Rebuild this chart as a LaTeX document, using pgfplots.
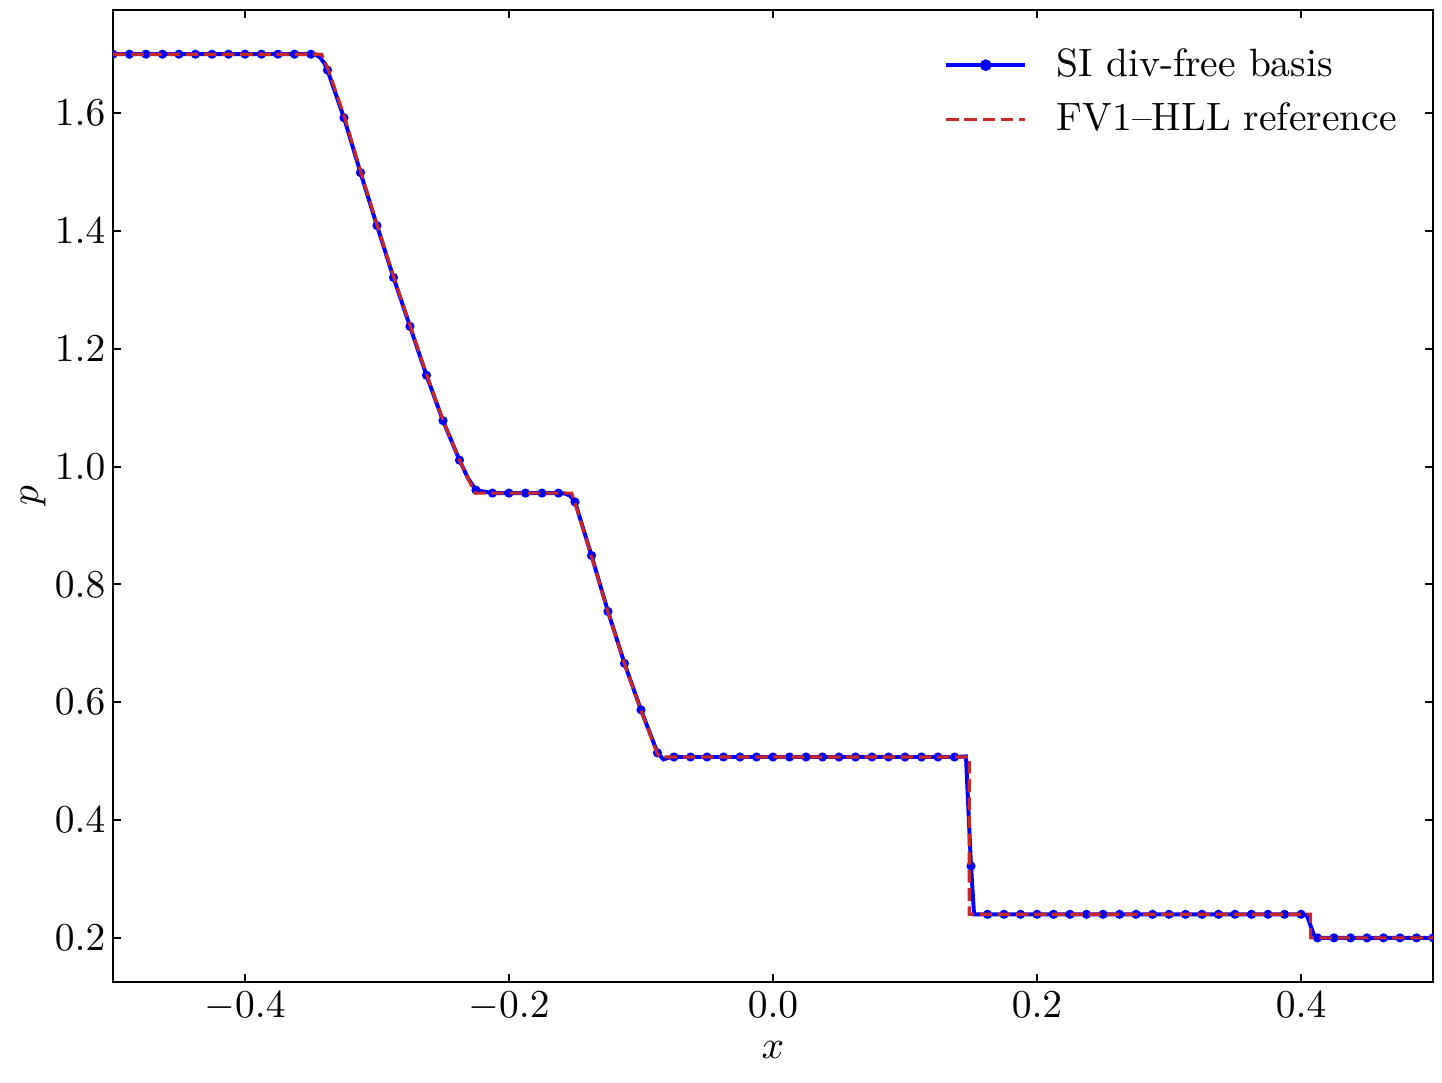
\documentclass[border=0pt]{standalone}
\usepackage{pgfplots}
\pgfplotsset{compat=1.18}
\usepackage{pgfplotstable}

\definecolor{refred}{RGB}{200,40,40}

% blue solution, marker positions (every 10th cell)
\pgfplotstableread{
x p
-0.5 1.700
-0.4875 1.700
-0.475 1.700
-0.4625 1.700
-0.45 1.700
-0.4375 1.700
-0.425 1.700
-0.4125 1.700
-0.4 1.700
-0.3875 1.700
-0.375 1.700
-0.3625 1.700
-0.35 1.700
-0.3375 1.673
-0.325 1.592
-0.3125 1.499
-0.3 1.409
-0.2875 1.321
-0.275 1.238
-0.2625 1.155
-0.25 1.078
-0.2375 1.011
-0.225 0.960
-0.2125 0.955
-0.2 0.955
-0.1875 0.955
-0.175 0.955
-0.1625 0.955
-0.15 0.940
-0.1375 0.849
-0.125 0.754
-0.1125 0.666
-0.1 0.587
-0.0875 0.514
-0.075 0.507
-0.0625 0.507
-0.05 0.507
-0.0375 0.507
-0.025 0.507
-0.0125 0.507
0.0 0.507
0.0125 0.507
0.025 0.507
0.0375 0.507
0.05 0.507
0.0625 0.507
0.075 0.507
0.0875 0.507
0.1 0.507
0.1125 0.507
0.125 0.507
0.1375 0.507
0.15 0.322
0.1625 0.240
0.175 0.240
0.1875 0.240
0.2 0.240
0.2125 0.240
0.225 0.240
0.2375 0.240
0.25 0.240
0.2625 0.240
0.275 0.240
0.2875 0.240
0.3 0.240
0.3125 0.240
0.325 0.240
0.3375 0.240
0.35 0.240
0.3625 0.240
0.375 0.240
0.3875 0.240
0.4 0.240
0.4125 0.200
0.425 0.200
0.4375 0.200
0.45 0.200
0.4625 0.200
0.475 0.200
0.4875 0.200
0.5 0.200
}\markerdata

% blue solution, line (extra points at corners)
\pgfplotstableread{
x p
-0.5 1.700
-0.35 1.700
-0.346 1.699
-0.343 1.694
-0.340 1.685
-0.3375 1.673
-0.325 1.592
-0.3125 1.499
-0.3 1.409
-0.2875 1.321
-0.275 1.238
-0.2625 1.155
-0.25 1.078
-0.2375 1.011
-0.231 0.980
-0.225 0.960
-0.2125 0.955
-0.1625 0.955
-0.157 0.954
-0.1535 0.950
-0.15 0.940
-0.1375 0.849
-0.125 0.754
-0.1125 0.666
-0.1 0.587
-0.0875 0.514
-0.083 0.503
-0.079 0.506
-0.075 0.507
0.1375 0.507
0.1462 0.508
0.15 0.322
0.1523 0.240
0.4 0.240
0.4043 0.239
0.4106 0.200
0.5 0.200
}\bluedata

% FV1-HLL reference
\pgfplotstableread{
x p
-0.5 1.700
-0.342 1.700
-0.3375 1.678
-0.325 1.596
-0.3125 1.502
-0.3 1.411
-0.2875 1.323
-0.275 1.240
-0.2625 1.157
-0.25 1.079
-0.2375 1.011
-0.2258 0.955
-0.1525 0.955
-0.15 0.938
-0.1375 0.848
-0.125 0.753
-0.1125 0.665
-0.1 0.586
-0.0875 0.512
-0.0856 0.507
0.1487 0.507
0.1487 0.240
0.4073 0.240
0.4073 0.200
0.5 0.200
}\refdata

\begin{document}
\begin{tikzpicture}
\begin{axis}[
    scale only axis,
    width=334.2pt, height=246.1pt,
    xmin=-0.5, xmax=0.5,
    ymin=0.125, ymax=1.775,
    xtick={-0.4,-0.2,0,0.2,0.4},
    ytick={0.2,0.4,0.6,0.8,1.0,1.2,1.4,1.6},
    xticklabel style={inner sep=2.3pt, /pgf/number format/.cd, fixed, fixed zerofill, precision=1},
    yticklabel style={inner sep=1.7pt, /pgf/number format/.cd, fixed, fixed zerofill, precision=1},
    tick align=inside,
    major tick length=2pt,
    axis line style={line width=0.7pt},
    every tick/.style={black, line width=0.5pt},
    xlabel={$x$}, ylabel={$p$},
    xlabel style={at={(axis description cs:0.5,-0.0699)}, anchor=center},
    ylabel style={at={(axis description cs:-0.0604,0.5)}, anchor=center},
    clip marker paths=true,
    legend cell align=left,
    legend style={draw=none, fill=none, at={(1,1)}, anchor=north east,
        xshift=-4pt, yshift=-5.5pt, column sep=5.5pt, row sep=1.3pt},
    legend image code/.code={
        \draw[mark repeat=2, mark phase=2, #1]
        plot coordinates {(0pt,0pt) (10pt,0pt) (20pt,0pt)};},
]
\addplot[blue, line width=1pt, no marks, forget plot] table {\bluedata};
\addplot[blue, only marks, mark=*, mark size=0.95pt, forget plot] table {\markerdata};
\addlegendimage{blue, line width=1pt, mark=*, mark size=0.95pt}
\addlegendentry{SI div-free basis}
\addplot[refred, line width=0.8pt, dash pattern=on 3.2pt off 1.4pt, no marks] table {\refdata};
\addlegendentry{FV1--HLL reference}
\end{axis}
\path ([xshift=2.28pt, yshift=2.53pt]current axis.north east);
\path ([xshift=-28.6pt, yshift=-25.3pt]current axis.south west);
\end{tikzpicture}
\end{document}
